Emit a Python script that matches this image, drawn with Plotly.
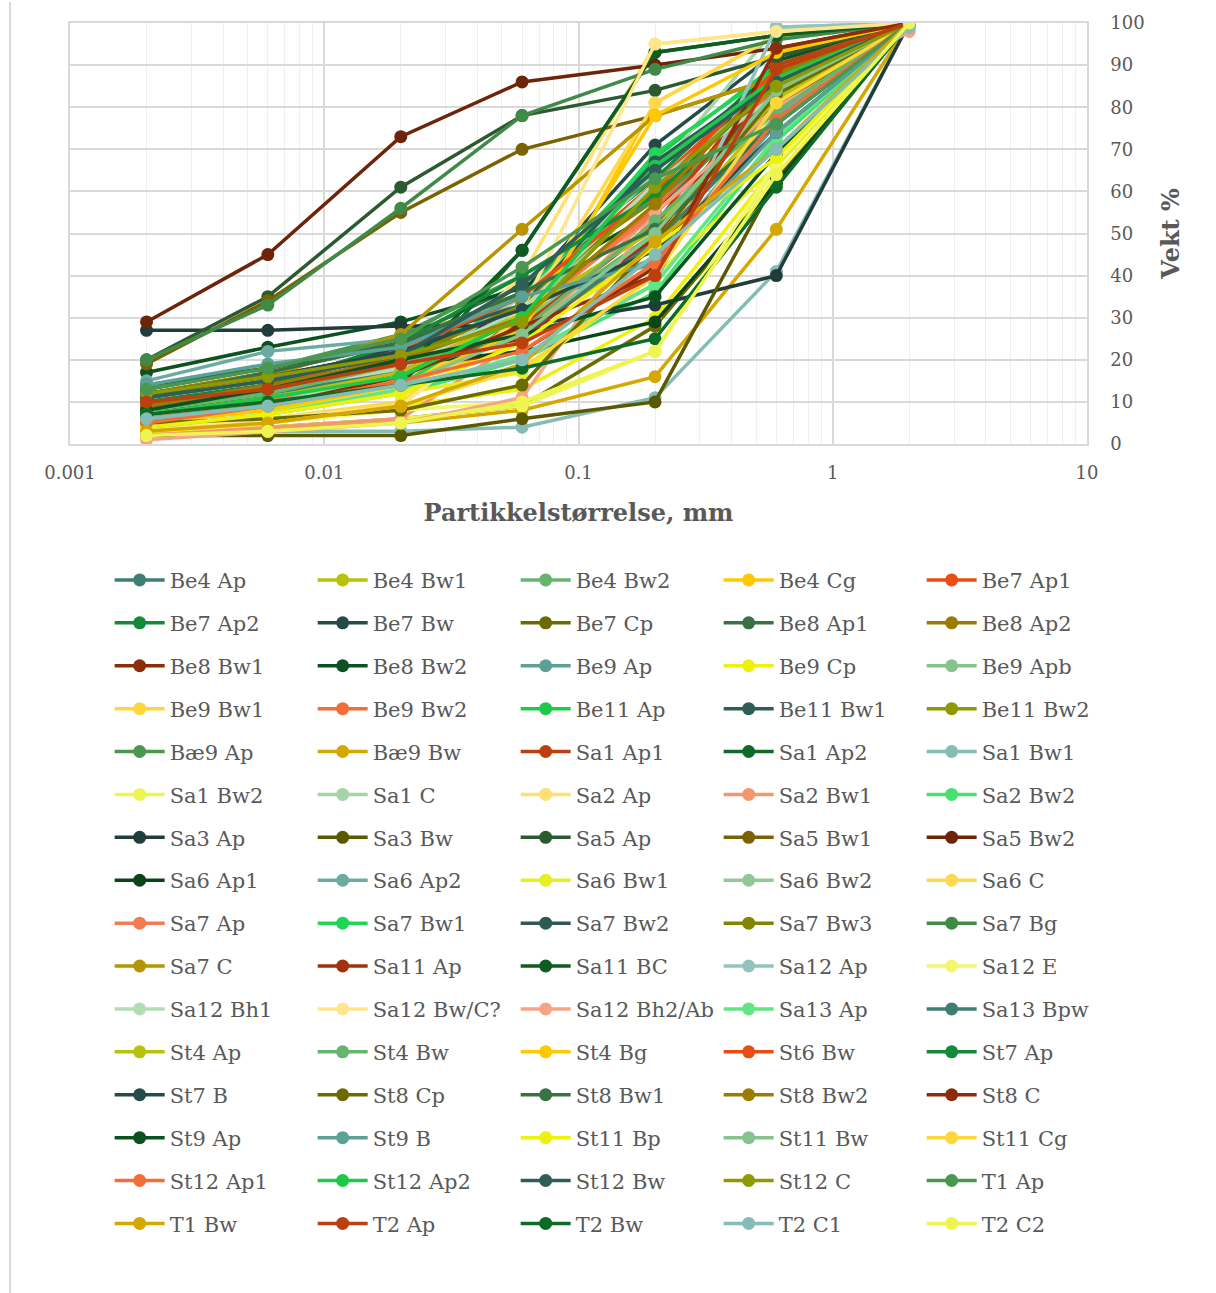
import plotly.graph_objects as go

sizes_mm = [0.002, 0.006, 0.02, 0.06, 0.2, 0.6, 2]

names = [
    "Be4 Ap", "Be4 Bw1", "Be4 Bw2", "Be4 Cg", "Be7 Ap1",
    "Be7 Ap2", "Be7 Bw", "Be7 Cp", "Be8 Ap1", "Be8 Ap2",
    "Be8 Bw1", "Be8 Bw2", "Be9 Ap", "Be9 Cp", "Be9 Apb",
    "Be9 Bw1", "Be9 Bw2", "Be11 Ap", "Be11 Bw1", "Be11 Bw2",
    "Bæ9 Ap", "Bæ9 Bw", "Sa1 Ap1", "Sa1 Ap2", "Sa1 Bw1",
    "Sa1 Bw2", "Sa1 C", "Sa2 Ap", "Sa2 Bw1", "Sa2 Bw2",
    "Sa3 Ap", "Sa3 Bw", "Sa5 Ap", "Sa5 Bw1", "Sa5 Bw2",
    "Sa6 Ap1", "Sa6 Ap2", "Sa6 Bw1", "Sa6 Bw2", "Sa6 C",
    "Sa7 Ap", "Sa7 Bw1", "Sa7 Bw2", "Sa7 Bw3", "Sa7 Bg",
    "Sa7 C", "Sa11 Ap", "Sa11 BC", "Sa12 Ap", "Sa12 E",
    "Sa12 Bh1", "Sa12 Bw/C?", "Sa12 Bh2/Ab", "Sa13 Ap", "Sa13 Bpw",
    "St4 Ap", "St4 Bw", "St4 Bg", "St6 Bw", "St7 Ap",
    "St7 B", "St8 Cp", "St8 Bw1", "St8 Bw2", "St8 C",
    "St9 Ap", "St9 B", "St11 Bp", "St11 Bw", "St11 Cg",
    "St12 Ap1", "St12 Ap2", "St12 Bw", "St12 C", "T1 Ap",
    "T1 Bw", "T2 Ap", "T2 Bw", "T2 C1", "T2 C2",
]

values = [
    [10, 14, 20, 32, 55, 84, 100],
    [7, 10, 15, 26, 47, 80, 100],
    [8, 11, 16, 28, 50, 82, 100],
    [5, 8, 14, 24, 81, 97, 100],
    [9, 13, 21, 35, 62, 88, 100],
    [8, 12, 20, 38, 63, 90, 100],
    [11, 15, 23, 36, 71, 93, 100],
    [3, 4, 6, 9, 28, 62, 100],
    [13, 18, 25, 38, 60, 89, 100],
    [12, 17, 24, 36, 58, 87, 100],
    [9, 12, 18, 22, 42, 92, 100],
    [17, 23, 29, 37, 55, 91, 100],
    [11, 15, 22, 33, 43, 76, 100],
    [4, 6, 9, 13, 30, 66, 100],
    [7, 10, 17, 29, 52, 83, 100],
    [6, 9, 15, 27, 48, 78, 100],
    [9, 13, 20, 30, 56, 85, 100],
    [8, 12, 20, 35, 68, 90, 100],
    [12, 16, 22, 31, 66, 88, 100],
    [14, 18, 25, 35, 61, 86, 100],
    [13, 18, 26, 40, 58, 80, 100],
    [3, 4, 5, 8, 16, 51, 100],
    [9, 12, 19, 28, 52, 90, 100],
    [6, 9, 14, 46, 93, 97, 100],
    [2, 3, 3, 4, 11, 41, 100],
    [3, 4, 6, 9, 22, 66, 100],
    [7, 10, 16, 35, 64, 99, 100],
    [5, 8, 13, 40, 95, 98, 100],
    [2, 4, 6, 25, 55, 79, 100],
    [4, 7, 12, 20, 36, 72, 100],
    [27, 27, 28, 28, 33, 40, 100],
    [2, 2, 2, 6, 10, 63, 100],
    [20, 35, 61, 78, 84, 92, 100],
    [19, 34, 55, 70, 78, 87, 100],
    [29, 45, 73, 86, 90, 94, 100],
    [10, 14, 19, 22, 29, 62, 100],
    [15, 22, 25, 33, 44, 78, 100],
    [5, 8, 12, 17, 40, 66, 100],
    [8, 11, 16, 30, 62, 85, 100],
    [4, 6, 10, 30, 81, 97, 100],
    [6, 10, 19, 30, 55, 79, 99],
    [5, 9, 14, 32, 69, 89, 100],
    [14, 18, 24, 33, 67, 87, 100],
    [10, 14, 20, 33, 60, 80, 100],
    [20, 33, 56, 78, 89, 96, 100],
    [11, 16, 26, 51, 78, 87, 100],
    [10, 13, 19, 25, 49, 88, 100],
    [8, 11, 17, 46, 93, 97, 100],
    [7, 10, 14, 20, 38, 99, 100],
    [3, 5, 8, 10, 22, 67, 100],
    [8, 12, 18, 32, 62, 83, 100],
    [3, 6, 9, 32, 95, 98, 100],
    [1, 3, 5, 11, 55, 80, 98],
    [4, 7, 13, 21, 38, 73, 100],
    [9, 12, 17, 26, 48, 77, 100],
    [7, 11, 17, 31, 51, 82, 100],
    [8, 12, 19, 27, 53, 79, 100],
    [5, 8, 14, 27, 78, 93, 100],
    [9, 14, 22, 35, 60, 89, 100],
    [10, 14, 24, 40, 59, 86, 100],
    [12, 16, 22, 32, 46, 74, 100],
    [5, 6, 8, 14, 48, 83, 100],
    [11, 17, 24, 36, 51, 76, 100],
    [9, 14, 20, 30, 57, 88, 100],
    [6, 9, 16, 28, 40, 94, 100],
    [8, 13, 20, 26, 35, 69, 100],
    [14, 19, 23, 35, 43, 74, 100],
    [4, 7, 12, 24, 47, 68, 100],
    [6, 9, 14, 26, 50, 84, 100],
    [3, 5, 9, 18, 40, 81, 100],
    [5, 9, 15, 22, 43, 77, 100],
    [7, 11, 16, 30, 66, 87, 100],
    [11, 15, 21, 38, 65, 86, 100],
    [12, 16, 21, 29, 61, 85, 100],
    [13, 18, 25, 42, 63, 76, 100],
    [3, 5, 9, 19, 48, 70, 100],
    [10, 13, 19, 24, 40, 89, 100],
    [7, 10, 14, 18, 25, 61, 100],
    [6, 9, 14, 20, 45, 70, 99],
    [2, 3, 5, 10, 22, 64, 100],
]

palette = [
    "#3f7f73", "#b9c10a", "#66b56f", "#ffc800", "#ea4c12", "#138a37",
    "#264a47", "#6b6b00", "#387244", "#9b7b00", "#8b2c0a", "#0b5220",
    "#5aa196", "#eef20a", "#85c48d", "#ffd73a", "#f36d3b", "#1ec94a",
    "#2e5e58", "#8e9a00", "#4a9850", "#d4a800", "#bc3f10", "#0d6b25",
    "#85bcb5", "#eef551", "#a5d4a8", "#ffe070", "#f3976e", "#48e070",
    "#213d3b", "#595900", "#2c5a30", "#7b6200", "#6e2409", "#0a4418",
    "#6aaba2", "#e5f020", "#93c896", "#ffd84d", "#f27c50", "#22d655",
    "#2f5955", "#848400", "#408a48", "#b89400", "#a0330c", "#0f5c22",
    "#92c4bd", "#f2f76b", "#b4dcb6", "#ffe68a", "#f5a585", "#62e585",
]

FONT = "Georgia, 'DejaVu Serif', serif"
TXT = "#595959"

fig = go.Figure()
for i, (nm, vals) in enumerate(zip(names, values)):
    c = palette[i % len(palette)]
    fig.add_trace(go.Scatter(
        x=sizes_mm, y=vals, name=nm, mode="lines+markers",
        legendgroup=nm,
        line=dict(color=c, width=3.5),
        marker=dict(color=c, size=13),
    ))

fig.update_layout(
    width=1216, height=1293,
    margin=dict(l=70, r=129, t=18, b=849),
    paper_bgcolor="white", plot_bgcolor="white",
    font=dict(family=FONT, color=TXT, size=18),
    showlegend=True,
    legend=dict(
        orientation="h", x=0.039, xanchor="left", y=-0.275, yanchor="top",
        entrywidth=138, entrywidthmode="pixels", itemwidth=50,
        tracegroupgap=12.6, maxheight=900,
        font=dict(family=FONT, size=21, color=TXT),
        bgcolor="rgba(0,0,0,0)",
    ),
    shapes=[dict(type="line", xref="paper", yref="paper",
                 x0=-0.059, x1=-0.059, y0=1.05, y1=-2.1,
                 line=dict(color="#d9d9d9", width=2))],
)

fig.update_xaxes(
    type="log", range=[-3, 1],
    tickmode="array",
    tickvals=[0.001, 0.01, 0.1, 1, 10],
    ticktext=["0.001", "0.01", "0.1", "1", "10"],
    showgrid=True, gridcolor="#d9d9d9", gridwidth=1.5,
    minor=dict(showgrid=True, gridcolor="#efefef", gridwidth=1, dtick="D1"),
    showline=True, linecolor="#d9d9d9", linewidth=1.5, mirror=True,
    zeroline=False, ticks="", ticklabelstandoff=12,
    tickfont=dict(size=18, color=TXT),
    title=dict(text="<b>Partikkelstørrelse, mm</b>", font=dict(size=24, color=TXT), standoff=22),
)
fig.update_yaxes(
    range=[0, 100], side="right",
    tickmode="linear", tick0=0, dtick=10,
    showgrid=True, gridcolor="#d9d9d9", gridwidth=1.5,
    showline=True, linecolor="#d9d9d9", linewidth=1.5, mirror=True,
    zeroline=False, ticks="", ticklabelstandoff=18,
    tickfont=dict(size=18, color=TXT),
    title=dict(text="<b>Vekt %</b>", font=dict(size=24, color=TXT), standoff=18),
)

fig.write_html("out.html")
